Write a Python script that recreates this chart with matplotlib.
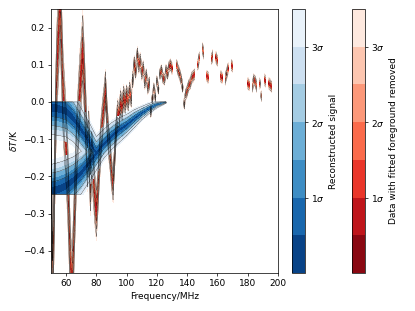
import numpy as np
import matplotlib
matplotlib.use('Agg')
import matplotlib.pyplot as plt

# ---------------- data ----------------
# residual data (data with fitted foreground removed), 1 MHz channels, nan = flagged
freq_data = list(range(50, 198))
resid_data = [
    -0.05, -0.50, -0.30, -0.05, 0.10, 0.18, 0.28, 0.15, 0.02, -0.05,      # 50-59
    -0.12, -0.20, -0.33, -0.46, -0.50, -0.38, -0.25, -0.12, -0.05, 0.03,  # 60-69
    0.08, 0.145, 0.06, -0.05, -0.15, -0.10, -0.22, -0.15, -0.20, -0.26,   # 70-79
    -0.30, -0.24, -0.16, -0.10, -0.05, -0.01, 0.035, -0.04, -0.10, -0.14, # 80-89
    -0.19, -0.225, -0.15, -0.08, -0.03, -0.04, 0.00, -0.02, 0.015, -0.005,# 90-99
    0.02, 0.0, 0.03, 0.01, 0.06, 0.10, 0.085, 0.125, 0.10, 0.11,          # 100-109
    0.08, 0.09, 0.055, 0.07, 0.04, 0.05, -0.025, 0.01, 0.035, 0.015,      # 110-119
    0.055, 0.035, 0.075, 0.085, 0.065, 0.06, 0.085, 0.075, 0.095, 0.10,   # 120-129
    0.09, np.nan, np.nan, 0.10, 0.085, 0.075, 0.06, 0.04, -0.005, 0.02,   # 130-139
    0.03, 0.045, 0.05, 0.065, 0.07, 0.075, np.nan, 0.10, 0.12, np.nan,    # 140-149
    0.145, 0.13, np.nan, 0.07, 0.065, np.nan, 0.115, 0.125, np.nan, 0.12, # 150-159
    0.11, np.nan, 0.07, 0.065, np.nan, 0.06, 0.075, 0.09, np.nan, 0.10,   # 160-169
    0.095, np.nan, np.nan, np.nan, np.nan, np.nan, np.nan, np.nan, np.nan, np.nan,  # 170-179
    0.05, 0.045, np.nan, 0.04, 0.06, 0.055, 0.04, np.nan, 0.05, 0.015,    # 180-189
    np.nan, 0.06, 0.055, np.nan, 0.05, 0.045, 0.04, np.nan,               # 190-197
]
# uncertainty of the residuals
err_freq = [50, 70, 85, 100, 120, 200]
err_vals = [0.04, 0.03, 0.016, 0.008, 0.0045, 0.0045]

# reconstructed signal: two posterior modes (lower / upper) with spread
sig_freq = [50, 55, 60, 65, 70, 75, 80, 85, 90, 95, 100, 105, 110, 115, 120, 126]
sig_lower = [-0.24, -0.235, -0.225, -0.21, -0.19, -0.165, -0.138, -0.112, -0.092,
             -0.076, -0.062, -0.045, -0.03, -0.017, -0.007, -0.0005]
sig_upper = [-0.015, -0.018, -0.025, -0.045, -0.075, -0.105, -0.138, -0.112, -0.092,
             -0.076, -0.062, -0.045, -0.03, -0.017, -0.007, -0.0005]
sig_err = [0.024, 0.024, 0.023, 0.021, 0.019, 0.017, 0.015, 0.013, 0.012,
           0.011, 0.0095, 0.008, 0.006, 0.0045, 0.003, 0.001]
sig_bounds = [-0.25, 0.0]

x_ticks = [60, 80, 100, 120, 140, 160, 180, 200]
y_ticks = [-0.4, -0.3, -0.2, -0.1, 0.0, 0.1, 0.2]
levels = [0, 0.5, 1, 1.5, 2, 2.5, 3, 3.5]
line_levels = [1, 2, 3]
cbar_labels = [r'$1\sigma$', r'$2\sigma$', r'$3\sigma$']

# ---------------- figure ----------------
W, H = 415, 311
fig = plt.figure(figsize=(W / 65, H / 65), dpi=65)
ax = fig.add_axes([51 / W, 1 - 273 / H, (278 - 51) / W, (273 - 9) / H])

yg = np.linspace(-0.55, 0.35, 1801)

# data field: evaluation grid fine below 100 MHz, channel grid above
fd = np.array(freq_data, float)
rd = np.array(resid_data, float)
fine = np.arange(50, 100, 0.25)
xg = np.concatenate([fine, fd[fd >= 100]])
mg = np.concatenate([np.interp(fine, fd[fd < 101], rd[fd < 101]), rd[fd >= 100]])
eg = np.interp(xg, err_freq, err_vals)
Xd, Yd = np.meshgrid(xg, yg)
zd = np.ma.masked_invalid(np.abs(Yd - mg) / eg)
cs_r = ax.contourf(xg, yg, zd, levels=levels, cmap='Reds_r', zorder=1)

# signal field
xs = np.linspace(50, 200, 901)
mA = np.interp(xs, sig_freq, sig_lower)
mB = np.interp(xs, sig_freq, sig_upper)
sS = np.interp(xs, sig_freq, sig_err)
X, Y = np.meshgrid(xs, yg)
zs = np.minimum(np.abs(Y - mA) / sS, np.abs(Y - mB) / sS)
zs[(Y > sig_bounds[1]) | (Y < sig_bounds[0])] = 10
zs[:, xs > sig_freq[-1]] = 10
cs_b = ax.contourf(xs, yg, zs, levels=levels, cmap='Blues_r', zorder=1)

# contour lines above all fills
ax.contour(xg, yg, zd, levels=line_levels, colors='k', linewidths=0.3, zorder=2)
ax.contour(xs, yg, zs, levels=line_levels, colors='k', linewidths=0.3, zorder=2)

ax.set_xlim(50, 200)
ax.set_ylim(-0.46, 0.25)
ax.set_xticks(x_ticks)
ax.set_yticks(y_ticks)
ax.set_xlabel('Frequency/MHz')
ax.set_ylabel(r'$\delta T$/K')

cax1 = fig.add_axes([292 / W, 1 - 273 / H, 13 / W, (273 - 9) / H])
cb1 = fig.colorbar(cs_b, cax=cax1, ticks=line_levels)
cb1.ax.set_yticklabels(cbar_labels)
cb1.set_label('Reconstructed signal')

cax2 = fig.add_axes([352 / W, 1 - 273 / H, 13 / W, (273 - 9) / H])
cb2 = fig.colorbar(cs_r, cax=cax2, ticks=line_levels)
cb2.ax.set_yticklabels(cbar_labels)
cb2.set_label('Data with fitted foreground removed')

fig.savefig('out.png', dpi=65)
